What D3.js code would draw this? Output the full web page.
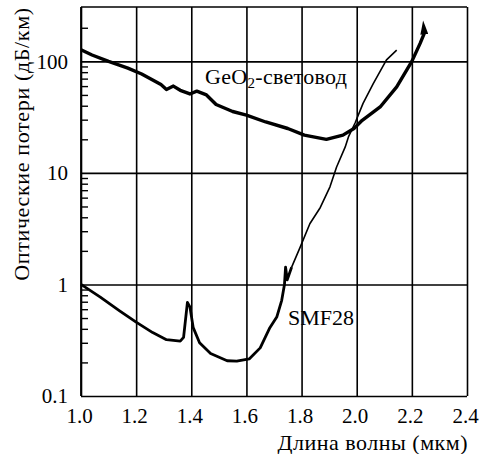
<!DOCTYPE html>
<html>
<head>
<meta charset="utf-8">
<script src="https://cdn.jsdelivr.net/npm/d3@7"></script>
<style>
  body { margin: 0; background: #fff; }
  svg { display: block; }
  text { font-family: "Liberation Serif", "Times New Roman", serif; fill: #000; }
</style>
</head>
<body>
<svg id="chart" width="483" height="454"></svg>
<script>
// x ticks (мкм) and y decades (дБ/км)
const xTicks = [1.0, 1.2, 1.4, 1.6, 1.8, 2.0, 2.2, 2.4];
const yTicks = [0.1, 1, 10, 100];
const yMinor = [0.2, 0.3, 0.4, 0.5, 0.6, 0.7, 0.8, 0.9,
                2, 3, 4, 5, 6, 7, 8, 9,
                20, 30, 40, 50, 60, 70, 80, 90, 200];

// GeO2 fibre
const geoWave = [1.00, 1.04, 1.10, 1.17, 1.22, 1.29, 1.31, 1.335, 1.36, 1.395, 1.42, 1.455,
                 1.49, 1.55, 1.60, 1.67, 1.75, 1.81, 1.89, 1.95, 1.99, 2.02, 2.085, 2.145,
                 2.20, 2.23, 2.245];
const geoLoss = [127, 114, 100, 87, 77, 62, 56, 60, 55, 51, 54, 50,
                 41, 35.5, 33, 28.6, 25, 21.8, 20, 21.8, 25, 29.6, 39, 59,
                 100, 145, 178];

// SMF28, noisy lower part
const smfWaveLow = [1.00, 1.07, 1.14, 1.20, 1.26, 1.31, 1.36, 1.372, 1.386, 1.395, 1.407, 1.43,
                    1.47, 1.53, 1.565, 1.61, 1.65, 1.685, 1.71, 1.728, 1.738, 1.742, 1.748, 1.764];
const smfLossLow = [1.0, 0.77, 0.58, 0.46, 0.37, 0.32, 0.31, 0.335, 0.69, 0.63, 0.41, 0.30,
                    0.24, 0.207, 0.205, 0.215, 0.27, 0.41, 0.51, 0.72, 1.0, 1.43, 1.1, 1.43];
// SMF28, thin upper part
const smfWaveHigh = [1.764, 1.795, 1.83, 1.868, 1.903, 1.927, 1.958, 1.97, 1.994, 2.023, 2.06, 2.108, 2.145];
const smfLossHigh = [1.43, 2.16, 3.5, 4.9, 7.5, 11.3, 17, 21, 28, 42, 63, 103, 126];

class lossChart {
  constructor(_config) {
    this.config = {
      parentElement: _config.parentElement,
      containerWidth: _config.containerWidth || 483,
      containerHeight: _config.containerHeight || 454,
      margin: _config.margin || { top: 7, bottom: 58, right: 16, left: 81 }
    };
    this.initVis();
  }

  initVis() {
    let vis = this;
    vis.width = vis.config.containerWidth - vis.config.margin.left - vis.config.margin.right;
    vis.height = vis.config.containerHeight - vis.config.margin.top - vis.config.margin.bottom;

    vis.svg = d3.select(vis.config.parentElement);
    vis.chart = vis.svg.append("g")
      .attr("transform", `translate(${vis.config.margin.left},${vis.config.margin.top})`);

    vis.xScale = d3.scaleLinear().domain([1.0, 2.4]).range([0, vis.width]);
    vis.yScale = d3.scaleLog().domain([0.1, 307]).range([vis.height, 0]);

    vis.render();
  }

  render() {
    let vis = this;
    const fs = "21px";

    // vertical grid + x labels
    const xAxisG = vis.chart.append("g")
      .attr("transform", `translate(0,${vis.height})`)
      .call(d3.axisBottom(vis.xScale).tickValues(xTicks).tickSize(-vis.height)
        .tickPadding(12).tickFormat(d3.format(".1f")));
    xAxisG.select(".domain").remove();
    xAxisG.selectAll("line").attr("stroke", "#000").attr("stroke-width", 1.6);
    xAxisG.selectAll("text").style("font-size", fs).attr("dx", "-2");

    // horizontal grid + y labels
    const yAxisG = vis.chart.append("g")
      .call(d3.axisLeft(vis.yScale).tickValues(yTicks).tickSize(-vis.width)
        .tickPadding(13).tickFormat(d => d));
    yAxisG.select(".domain").remove();
    yAxisG.selectAll("line").attr("stroke", "#000").attr("stroke-width", 1.6);
    yAxisG.selectAll("text").style("font-size", fs);

    // minor ticks, pointing inward
    const minorG = vis.chart.append("g")
      .call(d3.axisLeft(vis.yScale).tickValues(yMinor).tickSize(-7).tickFormat(""));
    minorG.select(".domain").remove();
    minorG.selectAll("line").attr("stroke", "#000").attr("stroke-width", 1.4);

    // frame: left axis and top border
    vis.chart.append("line")
      .attr("x1", 0).attr("x2", 0).attr("y1", 0).attr("y2", vis.height)
      .attr("stroke", "#000").attr("stroke-width", 1.8);
    vis.chart.append("line")
      .attr("x1", 0).attr("x2", vis.width).attr("y1", 0).attr("y2", 0)
      .attr("stroke", "#000").attr("stroke-width", 1.6);

    // arrow at end of GeO2 curve
    vis.svg.append("defs").append("marker")
      .attr("id", "tip")
      .attr("viewBox", "0 -4 14 8")
      .attr("refX", 1).attr("refY", 0)
      .attr("markerWidth", 14).attr("markerHeight", 8)
      .attr("markerUnits", "userSpaceOnUse")
      .attr("orient", "-95")
      .append("path")
      .attr("d", "M0,-4L14,0L0,4Z")
      .attr("fill", "#000");

    // scanned curves are jagged, so straight segments
    const line = d3.line()
      .x(d => vis.xScale(d[0]))
      .y(d => vis.yScale(d[1]));

    const geo = d3.zip(geoWave, geoLoss);
    const smfLow = d3.zip(smfWaveLow, smfLossLow);
    const smfHigh = d3.zip(smfWaveHigh, smfLossHigh);

    vis.chart.append("path")
      .datum(smfHigh)
      .attr("d", line)
      .attr("fill", "none").attr("stroke", "#000").attr("stroke-width", 1.6)
      .attr("stroke-linejoin", "round");

    vis.chart.append("path")
      .datum(smfLow)
      .attr("d", line)
      .attr("fill", "none").attr("stroke", "#000").attr("stroke-width", 2.8)
      .attr("stroke-linejoin", "round");

    vis.chart.append("path")
      .datum(geo)
      .attr("d", line)
      .attr("fill", "none").attr("stroke", "#000").attr("stroke-width", 3.4)
      .attr("stroke-linejoin", "round")
      .attr("marker-end", "url(#tip)");

    // curve labels
    const geoLabel = vis.svg.append("text")
      .attr("x", 205).attr("y", 84)
      .style("font-size", "22px")
      .style("letter-spacing", "0.3px");
    geoLabel.append("tspan").text("GeO");
    geoLabel.append("tspan").attr("dy", 4).style("font-size", "15px").text("2");
    geoLabel.append("tspan").attr("dy", -4).text("-световод");

    vis.svg.append("text")
      .attr("x", 288).attr("y", 325)
      .style("font-size", "22px")
      .text("SMF28");

    // axis titles
    vis.svg.append("text")
      .attr("x", 468).attr("y", 450)
      .attr("text-anchor", "end")
      .style("font-size", "22px")
      .style("letter-spacing", "0.5px")
      .text("Длина волны (мкм)");

    vis.svg.append("text")
      .attr("transform", "translate(29,144) rotate(-90)")
      .attr("text-anchor", "middle")
      .style("font-size", "22px")
      .style("letter-spacing", "0.65px")
      .text("Оптические потери (дБ/км)");
  }
}

new lossChart({ parentElement: "#chart" });
</script>
</body>
</html>
